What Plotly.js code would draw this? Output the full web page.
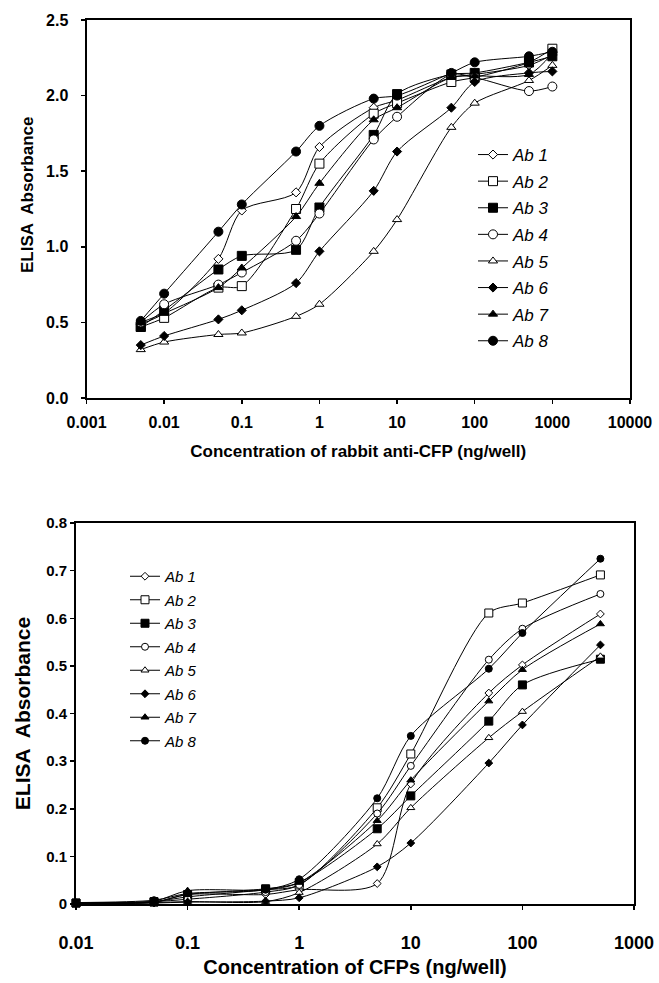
<!DOCTYPE html>
<html>
<head>
<meta charset="utf-8">
<script src="https://cdn.plot.ly/plotly-3.0.1.min.js"></script>
<style>html,body{margin:0;padding:0;background:#fff;}#chart{width:659px;height:983px;}</style>
</head>
<body>
<div id="chart"></div>
<script>
// ---- Data ----
const seriesNames = ["Ab 1", "Ab 2", "Ab 3", "Ab 4", "Ab 5", "Ab 6", "Ab 7", "Ab 8"];

// Top panel: concentration of rabbit anti-CFP (ng/well)
const topX = [0.005, 0.01, 0.05, 0.1, 0.5, 1, 5, 10, 50, 100, 500, 1000];
const topAb1 = [0.49, 0.56, 0.92, 1.24, 1.36, 1.66, 1.92, 1.97, 2.12, 2.14, 2.20, 2.27];
const topAb2 = [0.47, 0.53, 0.73, 0.74, 1.25, 1.55, 1.88, 1.95, 2.09, 2.12, 2.22, 2.31];
const topAb3 = [0.47, 0.58, 0.85, 0.94, 0.98, 1.26, 1.74, 2.01, 2.14, 2.15, 2.22, 2.26];
const topAb4 = [0.50, 0.62, 0.75, 0.83, 1.04, 1.22, 1.71, 1.86, 2.14, 2.12, 2.03, 2.06];
const topAb5 = [0.32, 0.37, 0.42, 0.43, 0.54, 0.62, 0.97, 1.18, 1.79, 1.95, 2.10, 2.20];
const topAb6 = [0.35, 0.41, 0.52, 0.58, 0.76, 0.97, 1.37, 1.63, 1.92, 2.09, 2.15, 2.16];
const topAb7 = [0.50, 0.56, 0.73, 0.86, 1.20, 1.42, 1.84, 1.92, 2.12, 2.13, 2.14, 2.28];
const topAb8 = [0.51, 0.69, 1.10, 1.28, 1.63, 1.80, 1.98, 2.00, 2.15, 2.22, 2.26, 2.29];

// Bottom panel: concentration of CFPs (ng/well)
const botX = [0.01, 0.05, 0.1, 0.5, 1, 5, 10, 50, 100, 500];
const botAb1 = [0.002, 0.004, 0.020, 0.020, 0.030, 0.043, 0.252, 0.443, 0.502, 0.609];
const botAb2 = [0.002, 0.005, 0.015, 0.030, 0.040, 0.202, 0.315, 0.611, 0.632, 0.691];
const botAb3 = [0.002, 0.004, 0.020, 0.032, 0.045, 0.158, 0.227, 0.384, 0.460, 0.514];
const botAb4 = [0.002, 0.005, 0.010, 0.025, 0.040, 0.190, 0.290, 0.513, 0.578, 0.651];
const botAb5 = [0.001, 0.003, 0.005, 0.005, 0.024, 0.126, 0.202, 0.349, 0.404, 0.520];
const botAb6 = [0.000, 0.002, 0.004, 0.006, 0.013, 0.078, 0.128, 0.296, 0.376, 0.544];
const botAb7 = [0.003, 0.006, 0.028, 0.030, 0.045, 0.175, 0.260, 0.426, 0.492, 0.588];
const botAb8 = [0.003, 0.008, 0.022, 0.030, 0.052, 0.222, 0.353, 0.494, 0.569, 0.725];

// Tick labels
const topXTickVals = [0.001, 0.01, 0.1, 1, 10, 100, 1000, 10000];
const topXTickText = ["0.001", "0.01", "0.1", "1", "10", "100", "1000", "10000"];
const topYTickVals = [0, 0.5, 1.0, 1.5, 2.0, 2.5];
const topYTickText = ["0.0", "0.5", "1.0", "1.5", "2.0", "2.5"];
const botXTickVals = [0.01, 0.1, 1, 10, 100, 1000];
const botXTickText = ["0.01", "0.1", "1", "10", "100", "1000"];
const botYTickVals = [0, 0.1, 0.2, 0.3, 0.4, 0.5, 0.6, 0.7, 0.8];
const botYTickText = ["0", "0.1", "0.2", "0.3", "0.4", "0.5", "0.6", "0.7", "0.8"];

// ---- Styles ----
const symbols = ["diamond", "square", "square", "circle", "triangle-up", "diamond", "triangle-up", "circle"];
const fills   = ["white", "white", "black", "white", "white", "black", "black", "black"];
const topSizes = [7, 9, 9, 9, 8, 7, 8, 9];
const botSizes = [6, 8, 8, 7, 7, 6, 7, 7];

const topY = [topAb1, topAb2, topAb3, topAb4, topAb5, topAb6, topAb7, topAb8];
const botY = [botAb1, botAb2, botAb3, botAb4, botAb5, botAb6, botAb7, botAb8];

const traces = [];
seriesNames.forEach((nm, i) => {
  traces.push({
    type: "scatter", mode: "lines+markers", name: nm,
    x: topX, y: topY[i], xaxis: "x", yaxis: "y",
    legend: "legend", legendgroup: "t" + i,
    line: {color: "black", width: 1, shape: "spline", smoothing: 0.8},
    marker: {symbol: symbols[i], size: topSizes[i], color: fills[i], line: {color: "black", width: 1}},
    cliponaxis: false
  });
});
seriesNames.forEach((nm, i) => {
  traces.push({
    type: "scatter", mode: "lines+markers", name: nm,
    x: botX, y: botY[i], xaxis: "x2", yaxis: "y2",
    legend: "legend2", legendgroup: "b" + i,
    line: {color: "black", width: 1, shape: "spline", smoothing: 0.8},
    marker: {symbol: symbols[i], size: botSizes[i], color: fills[i], line: {color: "black", width: 1}},
    cliponaxis: false
  });
});

const W = 659, H = 983;
const fontFam = "Liberation Sans, Arial, sans-serif";
const boldFont = (s) => ({family: fontFam, size: s, color: "black", weight: "bold"});

const axisBase = {
  showgrid: false, zeroline: false, showline: true, linecolor: "black", linewidth: 2,
  mirror: true, ticks: "outside", ticklen: 4, tickwidth: 1.5, tickcolor: "black",
  tickmode: "array", automargin: false
};

const layout = {
  width: W, height: H,
  margin: {l: 0, r: 0, t: 0, b: 0},
  paper_bgcolor: "white", plot_bgcolor: "white",
  font: {family: fontFam, color: "black"},
  xaxis: Object.assign({}, axisBase, {
    type: "log", range: [-3, 4], domain: [86.5 / W, 630 / W], anchor: "y",
    tickvals: topXTickVals, ticktext: topXTickText, tickfont: boldFont(16), ticklabelstandoff: 5,
    title: {text: "Concentration of rabbit anti-CFP (ng/well)", font: boldFont(17), standoff: 15}
  }),
  yaxis: Object.assign({}, axisBase, {
    range: [0, 2.5], domain: [1 - 398 / H, 1 - 20 / H], anchor: "x",
    tickvals: topYTickVals, ticktext: topYTickText, tickfont: boldFont(16), ticklabelstandoff: 9
  }),
  xaxis2: Object.assign({}, axisBase, {
    type: "log", range: [-2, 3], domain: [76 / W, 634 / W], anchor: "y2",
    tickvals: botXTickVals, ticktext: botXTickText, tickfont: boldFont(18), ticklabelstandoff: 17,
    title: {text: "Concentration of CFPs (ng/well)", font: boldFont(20), standoff: 8}
  }),
  yaxis2: Object.assign({}, axisBase, {
    range: [0, 0.8], domain: [1 - 904 / H, 1 - 523 / H], anchor: "x2",
    tickvals: botYTickVals, ticktext: botYTickText, tickfont: boldFont(15),
    title: {text: "ELISA  Absorbance", font: boldFont(21), standoff: 10}
  }),
  annotations: [{
    text: "ELISA  Absorbance", textangle: -90, xref: "paper", yref: "paper",
    x: 27 / W, y: 1 - 195 / H, xanchor: "center", yanchor: "middle", showarrow: false,
    font: boldFont(17)
  }],
  legend: {
    x: 473 / W, y: 1 - 137 / H, xanchor: "left", yanchor: "top",
    bgcolor: "rgba(0,0,0,0)", borderwidth: 0, tracegroupgap: 1.5,
    font: {family: fontFam, size: 17, style: "italic", color: "black"},
    itemwidth: 30
  },
  legend2: {
    x: 125 / W, y: 1 - 560 / H, xanchor: "left", yanchor: "top",
    bgcolor: "rgba(0,0,0,0)", borderwidth: 0, tracegroupgap: 1,
    font: {family: fontFam, size: 15, style: "italic", color: "black"},
    itemwidth: 30
  },
  showlegend: true
};

Plotly.newPlot("chart", traces, layout, {staticPlot: true, displayModeBar: false});
</script>
</body>
</html>
